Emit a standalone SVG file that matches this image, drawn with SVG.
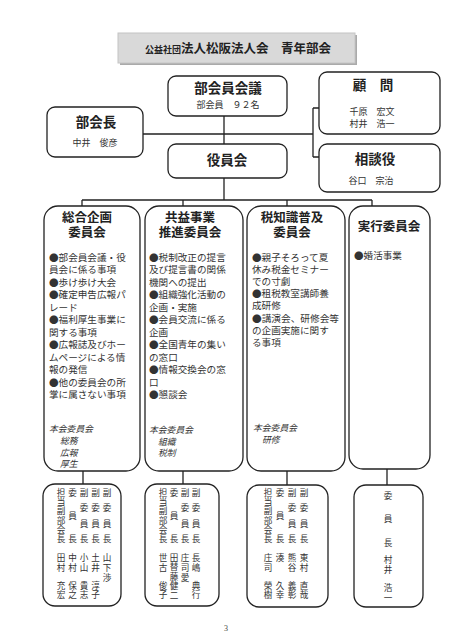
<svg xmlns="http://www.w3.org/2000/svg" width="452" height="640" viewBox="0 0 452 640">
<style>
.box{fill:#fff;stroke:#222;stroke-width:1.3}
.ln{stroke:#222;stroke-width:1.3;fill:none}
text{font-family:"Noto Sans CJK JP","Noto Sans CJK SC",sans-serif;fill:#222}
.h{font-size:13.5px;font-weight:700;text-anchor:middle}
.ch{font-size:12.5px;font-weight:700;text-anchor:middle}
.s{font-size:9px;text-anchor:middle;fill:#333}
.b{font-size:9.6px;fill:#333}
.i{font-size:8.8px;font-style:italic;fill:#333}
.v{font-size:8.6px;text-anchor:middle;fill:#333}
</style>
<rect width="452" height="640" fill="#fff"/>
<g id="title">
<rect x="120" y="35" width="237" height="30" fill="#aaa"/>
<rect x="118" y="33" width="237" height="30" fill="#d9d9d9" stroke="#c4c4c4"/>
<text x="145" y="53" style="font-size:12.5px;font-weight:700"><tspan style="font-size:9px">公益社団</tspan>法人松阪法人会　青年部会</text>
</g>
<g id="connectors">
<path class="ln" d="M224 116V144M143 134H313M313 108V157M313 108H319M313 157H319"/>
<path class="ln" d="M224 178V200M82 200H372M82 200V206M183 200V206M287 200V206M372 200V206"/>
<path class="ln" d="M83 471V484M183 471V484M287 471V485M387 469V485"/>
</g>
<g id="bukaiinkaigi">
<rect class="box" x="168" y="76" width="119" height="40" rx="8"/>
<text class="h" x="228" y="93">部会員会議</text>
<text class="s" x="228" y="107.5">部会員　９２名</text>
</g>
<g id="komon">
<rect class="box" x="319" y="72" width="121" height="62" rx="8"/>
<text class="h" x="373" y="90">顧　問</text>
<text class="s" x="372" y="114.5">千原　宏文</text>
<text class="s" x="372" y="126.5">村井　浩一</text>
</g>
<g id="bukaicho">
<rect class="box" x="47" y="107" width="96" height="50" rx="8"/>
<text class="h" x="96" y="127">部会長</text>
<text class="s" x="95" y="145.5">中井　俊彦</text>
</g>
<g id="yakuinkai">
<rect class="box" x="168" y="144" width="119" height="34" rx="8"/>
<text class="h" x="227" y="165">役員会</text>
</g>
<g id="sodanyaku">
<rect class="box" x="319" y="144" width="121" height="48" rx="8"/>
<text class="h" x="375" y="164">相談役</text>
<text class="s" x="371" y="183.5">谷口　宗治</text>
</g>
<g id="col1">
<rect class="box" x="44" y="206" width="96" height="265" rx="14"/>
<text class="ch" x="87" y="222">総合企画</text>
<text class="ch" x="87" y="237">委員会</text>
<text class="b"><tspan x="49" y="260.5">●部会員会議・役</tspan><tspan x="49" y="273">員会に係る事項</tspan><tspan x="49" y="285.5">●歩け歩け大会</tspan><tspan x="49" y="298">●確定申告広報パ</tspan><tspan x="49" y="310.5">レード</tspan><tspan x="49" y="323">●福利厚生事業に</tspan><tspan x="49" y="335.5">関する事項</tspan><tspan x="49" y="348">●広報誌及びホー</tspan><tspan x="49" y="360.5">ムページによる情</tspan><tspan x="49" y="373">報の発信</tspan><tspan x="49" y="385.5">●他の委員会の所</tspan><tspan x="49" y="398">掌に属さない事項</tspan></text>
<text class="i"><tspan x="49" y="432">本会委員会</tspan><tspan x="60" y="444">総務</tspan><tspan x="60" y="455.5">広報</tspan><tspan x="60" y="467">厚生</tspan></text>
</g>
<g id="col2">
<rect class="box" x="145" y="206" width="98" height="265" rx="14"/>
<text class="ch" x="190" y="222">共益事業</text>
<text class="ch" x="190" y="237">推進委員会</text>
<text class="b"><tspan x="149" y="260.5">●税制改正の提言</tspan><tspan x="149" y="273">及び提言書の関係</tspan><tspan x="149" y="285.5">機関への提出</tspan><tspan x="149" y="298">●組織強化活動の</tspan><tspan x="149" y="310.5">企画・実施</tspan><tspan x="149" y="323">●会員交流に係る</tspan><tspan x="149" y="335.5">企画</tspan><tspan x="149" y="348">●全国青年の集い</tspan><tspan x="149" y="360.5">の窓口</tspan><tspan x="149" y="373">●情報交換会の窓</tspan><tspan x="149" y="385.5">口</tspan><tspan x="149" y="398">●懇談会</tspan></text>
<text class="i"><tspan x="149" y="433">本会委員会</tspan><tspan x="158" y="444.5">組織</tspan><tspan x="158" y="456">税制</tspan></text>
</g>
<g id="col3">
<rect class="box" x="247" y="206" width="98" height="265" rx="14"/>
<text class="ch" x="292" y="222">税知識普及</text>
<text class="ch" x="292" y="237">委員会</text>
<text class="b"><tspan x="252" y="260.5">●親子そろって夏</tspan><tspan x="252" y="272.7">休み税金セミナー</tspan><tspan x="252" y="284.9">での寸劇</tspan><tspan x="252" y="297.1">●租税教室講師養</tspan><tspan x="252" y="309.3">成研修</tspan><tspan x="252" y="321.5" textLength="87" lengthAdjust="spacingAndGlyphs">●講演会、研修会等</tspan><tspan x="252" y="333.7">の企画実施に関す</tspan><tspan x="252" y="345.9">る事項</tspan></text>
<text class="i"><tspan x="253" y="431">本会委員会</tspan><tspan x="262" y="442.5">研修</tspan></text>
</g>
<g id="col4">
<rect class="box" x="349" y="206" width="81" height="263" rx="14"/>
<text class="ch" x="389" y="231">実行委員会</text>
<text class="b" x="354" y="258.5">●婚活事業</text>
</g>
<g id="boxA">
<rect class="box" x="43" y="484" width="78" height="122" rx="12"/>
<text class="v"><tspan x="61" y="496">担</tspan><tspan x="61" y="505.2">当</tspan><tspan x="61" y="514.4">副</tspan><tspan x="61" y="523.6">部</tspan><tspan x="61" y="532.8">会</tspan><tspan x="61" y="542">長</tspan><tspan x="61" y="560.5">田</tspan><tspan x="61" y="570.5">村</tspan><tspan x="61" y="588.5">充</tspan><tspan x="61" y="598">宏</tspan></text>
<text class="v"><tspan x="72.5" y="496">委</tspan><tspan x="72.5" y="519">員</tspan><tspan x="72.5" y="542">長</tspan><tspan x="72.5" y="560.5">中</tspan><tspan x="72.5" y="570.5">村</tspan><tspan x="72.5" y="588.5">保</tspan><tspan x="72.5" y="598">之</tspan></text>
<text class="v"><tspan x="84" y="496">副</tspan><tspan x="84" y="511.3">委</tspan><tspan x="84" y="526.7">員</tspan><tspan x="84" y="542">長</tspan><tspan x="84" y="560.5">小</tspan><tspan x="84" y="570.5">山</tspan><tspan x="84" y="588.5">貴</tspan><tspan x="84" y="598">志</tspan></text>
<text class="v"><tspan x="95.5" y="496">副</tspan><tspan x="95.5" y="511.3">委</tspan><tspan x="95.5" y="526.7">員</tspan><tspan x="95.5" y="542">長</tspan><tspan x="95.5" y="560.5">土</tspan><tspan x="95.5" y="570.5">井</tspan><tspan x="95.5" y="588.5">淳</tspan><tspan x="95.5" y="598">子</tspan></text>
<text class="v"><tspan x="107" y="496">副</tspan><tspan x="107" y="511.3">委</tspan><tspan x="107" y="526.7">員</tspan><tspan x="107" y="542">長</tspan><tspan x="107" y="560.5">山</tspan><tspan x="107" y="570.5">下</tspan><tspan x="107" y="580.5">渉</tspan></text>
</g>
<g id="boxB">
<rect class="box" x="145" y="484" width="74" height="122" rx="12"/>
<text class="v"><tspan x="163" y="496">担</tspan><tspan x="163" y="505.2">当</tspan><tspan x="163" y="514.4">副</tspan><tspan x="163" y="523.6">部</tspan><tspan x="163" y="532.8">会</tspan><tspan x="163" y="542">長</tspan><tspan x="163" y="560.5">世</tspan><tspan x="163" y="570.5">古</tspan><tspan x="163" y="588.5">俊</tspan><tspan x="163" y="598">子</tspan></text>
<text class="v"><tspan x="174" y="496">委</tspan><tspan x="174" y="519">員</tspan><tspan x="174" y="542">長</tspan><tspan x="174" y="560.5">田</tspan><tspan x="174" y="570">替</tspan><tspan x="174" y="579.5">藤</tspan><tspan x="174" y="589">健</tspan><tspan x="174" y="598.5">二</tspan></text>
<text class="v"><tspan x="185" y="496">副</tspan><tspan x="185" y="511.3">委</tspan><tspan x="185" y="526.7">員</tspan><tspan x="185" y="542">長</tspan><tspan x="185" y="560.5">庄</tspan><tspan x="185" y="570.5">司</tspan><tspan x="185" y="580.5">愛</tspan></text>
<text class="v"><tspan x="196" y="496">副</tspan><tspan x="196" y="511.3">委</tspan><tspan x="196" y="526.7">員</tspan><tspan x="196" y="542">長</tspan><tspan x="196" y="560.5">長</tspan><tspan x="196" y="570.5">嶋</tspan><tspan x="196" y="588.5">典</tspan><tspan x="196" y="598">行</tspan></text>
</g>
<g id="boxC">
<rect class="box" x="247" y="485" width="81" height="122" rx="12"/>
<text class="v"><tspan x="268" y="496">担</tspan><tspan x="268" y="505.2">当</tspan><tspan x="268" y="514.4">副</tspan><tspan x="268" y="523.6">部</tspan><tspan x="268" y="532.8">会</tspan><tspan x="268" y="542">長</tspan><tspan x="268" y="560.5">庄</tspan><tspan x="268" y="570.5">司</tspan><tspan x="268" y="588.5">榮</tspan><tspan x="268" y="598">樹</tspan></text>
<text class="v"><tspan x="280" y="496">委</tspan><tspan x="280" y="519">員</tspan><tspan x="280" y="542">長</tspan><tspan x="280" y="560.5">湊</tspan><tspan x="280" y="588.5">久</tspan><tspan x="280" y="598">幸</tspan></text>
<text class="v"><tspan x="292" y="496">副</tspan><tspan x="292" y="511.3">委</tspan><tspan x="292" y="526.7">員</tspan><tspan x="292" y="542">長</tspan><tspan x="292" y="560.5">熊</tspan><tspan x="292" y="570.5">谷</tspan><tspan x="292" y="588.5">義</tspan><tspan x="292" y="598">彰</tspan></text>
<text class="v"><tspan x="304" y="496">副</tspan><tspan x="304" y="511.3">委</tspan><tspan x="304" y="526.7">員</tspan><tspan x="304" y="542">長</tspan><tspan x="304" y="560.5">東</tspan><tspan x="304" y="570.5">村</tspan><tspan x="304" y="588.5">直</tspan><tspan x="304" y="598">哉</tspan></text>
</g>
<g id="boxD">
<rect class="box" x="354" y="485" width="69" height="122" rx="12"/>
<text class="v"><tspan x="388" y="498.5">委</tspan><tspan x="388" y="521.5">員</tspan><tspan x="388" y="545.5">長</tspan><tspan x="388" y="562.5">村</tspan><tspan x="388" y="572.5">井</tspan><tspan x="388" y="590.5">浩</tspan><tspan x="388" y="600.5">一</tspan></text>
</g>
<text x="226" y="631" style="font-size:8px;font-family:'Liberation Serif',serif;text-anchor:middle;fill:#444">3</text>
</svg>
